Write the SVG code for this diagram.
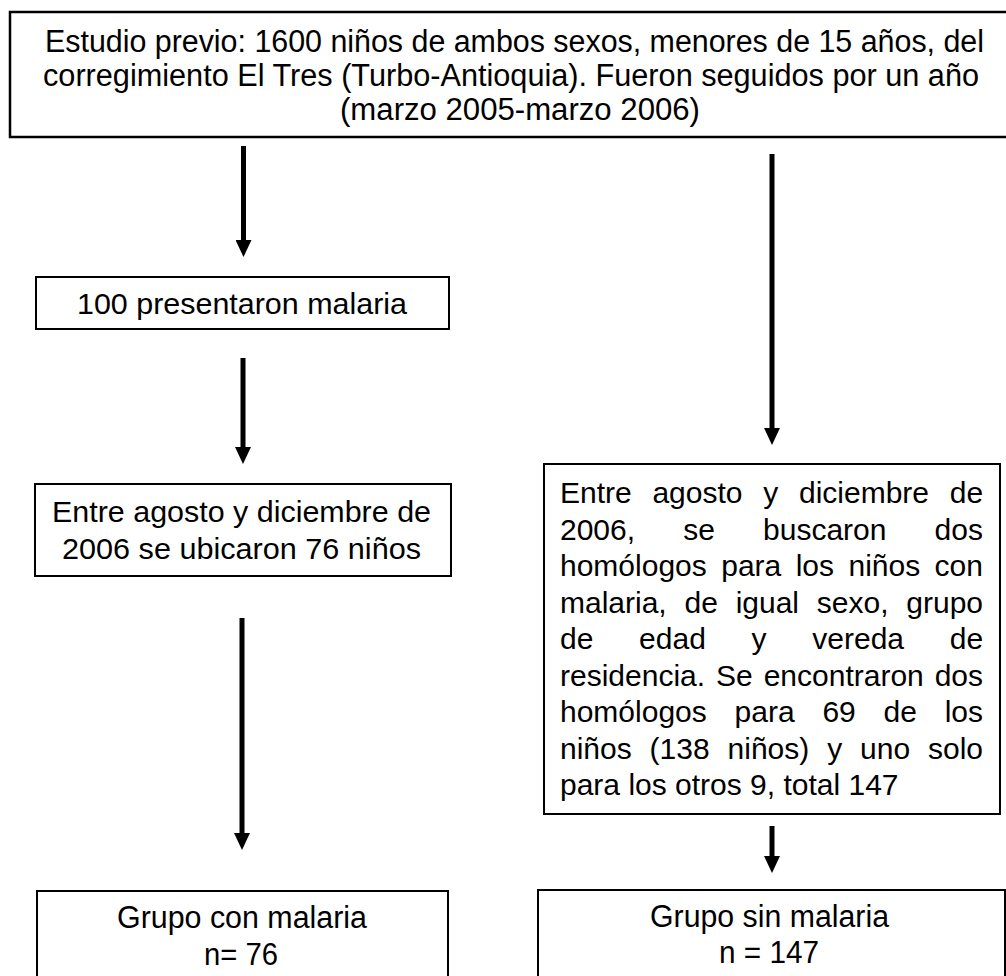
<svg xmlns="http://www.w3.org/2000/svg" width="1006" height="976" viewBox="0 0 1006 976">
<style>
.box{fill:#fff;stroke:#000;stroke-width:2}
.tbox{fill:#fff;stroke:#000;stroke-width:2.5}
.t{font-family:"Liberation Sans",Arial,sans-serif;font-size:30px;fill:#000}
.n{font-size:31px}
.conn{stroke:#000;stroke-width:5;fill:none;marker-end:url(#ah)}
</style>
<defs>
<marker id="ah" markerUnits="userSpaceOnUse" markerWidth="17" markerHeight="16" refX="0" refY="8" orient="auto" viewBox="0 0 17 16">
<path d="M0,0 L17,8 L0,16 Z" fill="#000"/>
</marker>
</defs>
<rect width="1006" height="976" fill="#fff"/>
<g id="connectors">
<line class="conn" x1="243.5" y1="146" x2="243.5" y2="240"/>
<line class="conn" x1="243" y1="358" x2="243" y2="447"/>
<line class="conn" x1="242" y1="618" x2="242" y2="833"/>
<line class="conn" x1="772" y1="154" x2="772" y2="428"/>
<line class="conn" x1="772" y1="826" x2="772" y2="856"/>
</g>
<g id="n-estudio">
<rect class="tbox" x="10" y="12" width="1010" height="125"/>
<text class="t n" x="45" y="52" textLength="939" lengthAdjust="spacingAndGlyphs">Estudio previo: 1600 niños de ambos sexos, menores de 15 años, del</text>
<text class="t n" x="43" y="86" textLength="936" lengthAdjust="spacingAndGlyphs">corregimiento El Tres (Turbo-Antioquia). Fueron seguidos por un año</text>
<text class="t n" x="340" y="120" textLength="360" lengthAdjust="spacingAndGlyphs">(marzo 2005-marzo 2006)</text>
</g>
<g id="n-100">
<rect class="box" x="36" y="277" width="413" height="52"/>
<text class="t" x="77" y="314" textLength="330" lengthAdjust="spacingAndGlyphs">100 presentaron malaria</text>
</g>
<g id="n-entre76">
<rect class="box" x="35" y="484" width="416" height="92"/>
<text class="t" x="52" y="522" textLength="379" lengthAdjust="spacingAndGlyphs">Entre agosto y diciembre de</text>
<text class="t" x="62" y="559" textLength="359" lengthAdjust="spacingAndGlyphs">2006 se ubicaron 76 niños</text>
</g>
<g id="n-entre147">
<rect class="box" x="544" y="464" width="456" height="350"/>
<text class="t" x="560" y="503" word-spacing="12.4">Entre agosto y diciembre de</text>
<text class="t" x="560" y="539.5" word-spacing="39.8">2006, se buscaron dos</text>
<text class="t" x="560" y="576" word-spacing="6.1">homólogos para los niños con</text>
<text class="t" x="560" y="612.5" word-spacing="9.45">malaria, de igual sexo, grupo</text>
<text class="t" x="560" y="649" word-spacing="37.4">de edad y vereda de</text>
<text class="t" x="560" y="685.5" word-spacing="2.6">residencia. Se encontraron dos</text>
<text class="t" x="560" y="722" word-spacing="19.45">homólogos para 69 de los</text>
<text class="t" x="560" y="758.5" word-spacing="9.56">niños (138 niños) y uno solo</text>
<text class="t" x="560" y="795">para los otros 9, total 147</text>
</g>
<g id="n-con">
<rect class="box" x="37" y="891" width="411" height="110"/>
<text class="t n" x="117" y="928" textLength="250" lengthAdjust="spacingAndGlyphs">Grupo con malaria</text>
<text class="t n" x="204" y="965" textLength="74" lengthAdjust="spacingAndGlyphs">n= 76</text>
</g>
<g id="n-sin">
<rect class="box" x="538" y="890" width="467" height="110"/>
<text class="t n" x="650" y="927" textLength="239" lengthAdjust="spacingAndGlyphs">Grupo sin malaria</text>
<text class="t n" x="719" y="963" textLength="100" lengthAdjust="spacingAndGlyphs">n = 147</text>
</g>
</svg>
